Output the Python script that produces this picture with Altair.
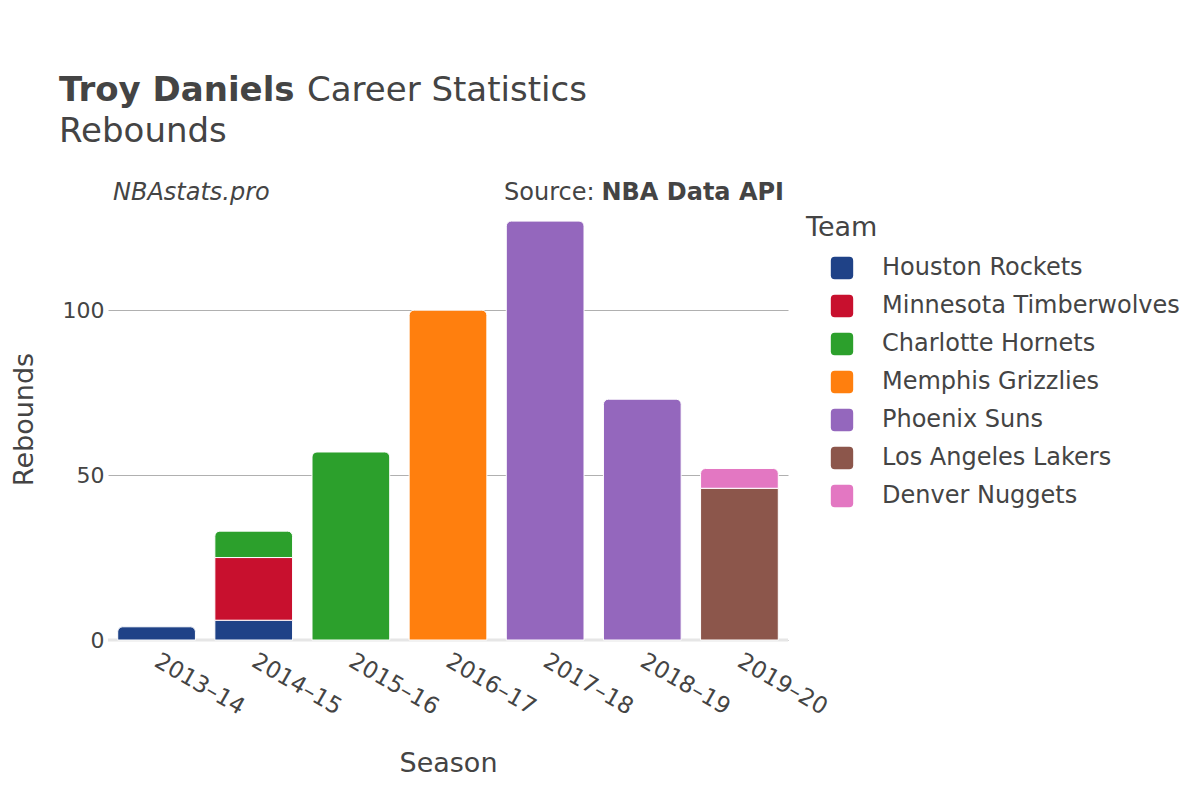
import altair as alt
import pandas as pd

seasons = ["2013–14", "2014–15", "2015–16", "2016–17", "2017–18", "2018–19", "2019–20"]
teams = ["Houston Rockets", "Minnesota Timberwolves", "Charlotte Hornets",
         "Memphis Grizzlies", "Phoenix Suns", "Los Angeles Lakers", "Denver Nuggets"]
team_colors = ["#1f4287", "#c8102e", "#2ca02c", "#ff7f0e", "#9467bd", "#8c564b", "#e377c2"]

row_season = ["2013–14", "2014–15", "2014–15", "2014–15", "2015–16", "2016–17",
              "2017–18", "2018–19", "2019–20", "2019–20"]
row_team = ["Houston Rockets", "Houston Rockets", "Minnesota Timberwolves", "Charlotte Hornets",
            "Charlotte Hornets", "Memphis Grizzlies", "Phoenix Suns", "Phoenix Suns",
            "Los Angeles Lakers", "Denver Nuggets"]
row_rebounds = [4, 6, 19, 8, 57, 100, 127, 73, 46, 6]

df = pd.DataFrame({"Season": row_season, "Team": row_team, "Rebounds": row_rebounds})
df["order"] = df["Team"].map({t: i for i, t in enumerate(teams)})
df = df.sort_values(["Season", "order"]).reset_index(drop=True)
df["y1"] = df.groupby("Season")["Rebounds"].cumsum()
df["y0"] = df["y1"] - df["Rebounds"]
df["is_top"] = df.groupby("Season")["y1"].transform("max") == df["y1"]

FONT = "DejaVu Sans"
TXT = "#444444"

x_enc = alt.X("Season:N", sort=seasons,
              scale=alt.Scale(domain=seasons, paddingInner=0.2, paddingOuter=0.1),
              axis=alt.Axis(title="Season", labelAngle=30, labelAlign="left",
                            labelBaseline="middle", labelPadding=19, labelFontSize=23,
                            titleFontSize=27, titleFontWeight="normal",
                            titleY=131, titleBaseline="alphabetic",
                            domain=False, ticks=False, grid=False))
y_enc = alt.Y("y0:Q", scale=alt.Scale(domain=[0, 133.7], nice=False, zero=True),
              axis=alt.Axis(title="Rebounds", values=[0, 50, 100], labelFontSize=22,
                            labelPadding=4, titleFontSize=27, titleFontWeight="normal",
                            titleAngle=-90, titleX=-76, titleY=220, titleAlign="center",
                            titleBaseline="alphabetic",
                            domain=False, ticks=False, grid=True,
                            gridColor="#b0b0b0", gridWidth=1))

legend_symbol = ("M-0.65,-1 L0.65,-1 Q1,-1 1,-0.65 L1,0.65 Q1,1 0.65,1 L-0.65,1 "
                 "Q-1,1 -1,0.65 L-1,-0.65 Q-1,-1 -0.65,-1 Z")
color_enc = alt.Color("Team:N", scale=alt.Scale(domain=teams, range=team_colors),
                      legend=alt.Legend(title="Team", orient="none", legendX=698, legendY=16,
                                        titleFontSize=27, titleFontWeight="normal",
                                        labelFontSize=24, labelLimit=0,
                                        symbolType=legend_symbol,
                                        symbolSize=500, symbolOffset=24, labelOffset=28,
                                        rowPadding=14, titlePadding=14, padding=0,
                                        symbolStrokeWidth=0))

zero_line = alt.Chart(pd.DataFrame({"z": [0]})).mark_rule(
    color="#e6e6e6", strokeWidth=3).encode(y=alt.Y("z:Q"))

base = alt.Chart(df)
lower = base.transform_filter("!datum.is_top").mark_bar(
    stroke="white", strokeWidth=1).encode(x=x_enc, y=y_enc, y2="y1:Q", color=color_enc)
upper = base.transform_filter("datum.is_top").mark_bar(
    stroke="white", strokeWidth=1, cornerRadiusTopLeft=5, cornerRadiusTopRight=5).encode(
    x=x_enc, y=y_enc, y2="y1:Q", color=color_enc)


def label(text, x, y, size, weight="normal", style="normal", align="left"):
    return alt.Chart(pd.DataFrame({"t": [text]})).mark_text(
        font=FONT, fontSize=size, fontWeight=weight, fontStyle=style, align=align,
        baseline="alphabetic", color=TXT).encode(
        text="t:N", x=alt.value(x), y=alt.value(y))


title1 = label("Troy Daniels", -49, -98, 34, weight="bold")
title2 = label("Career Statistics", 199, -98, 34)
title3 = label("Rebounds", -49, -57, 34)
ann1 = label("NBAstats.pro", 5, 1, 24, style="italic")
ann2 = label("Source:", 396, 1, 24)
ann3 = label("NBA Data API", 676, 1, 24, weight="bold", align="right")

chart = alt.layer(zero_line, lower, upper, title1, title2, title3, ann1, ann2, ann3).properties(
    width=680, height=441,
    autosize=alt.AutoSizeParams(type="none"),
    padding={"left": 100, "top": 191, "right": 404, "bottom": 152},
).configure(font=FONT).configure_view(strokeWidth=0, stroke=None).configure_axis(
    labelColor=TXT, titleColor=TXT, labelFont=FONT, titleFont=FONT
).configure_legend(labelColor=TXT, titleColor=TXT, labelFont=FONT, titleFont=FONT)

chart.save("out.html", embed_options={"renderer": "svg", "actions": False})
